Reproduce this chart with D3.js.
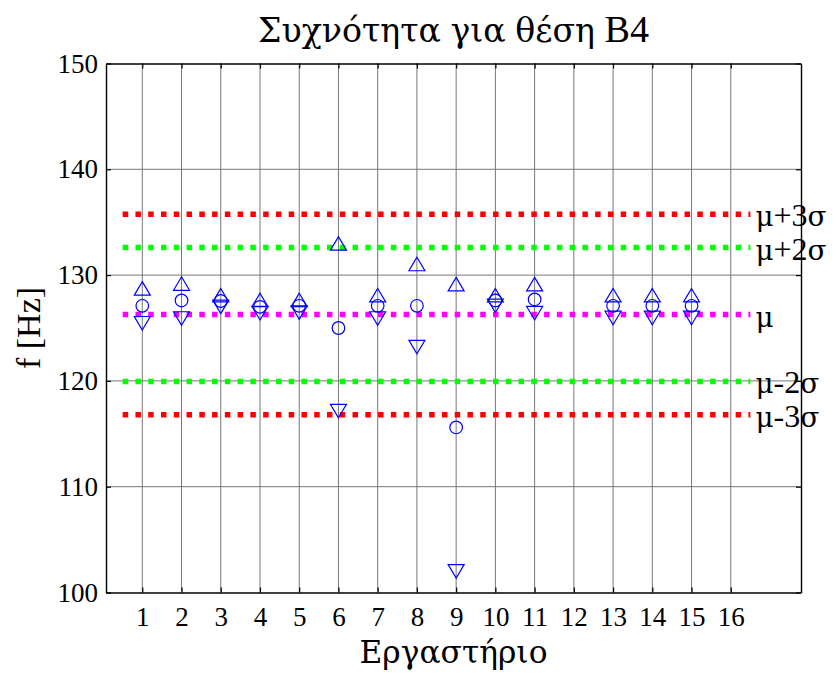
<!DOCTYPE html>
<html>
<head>
<meta charset="utf-8">
<script src="https://cdn.jsdelivr.net/npm/d3@7"></script>
<style>
  html, body { margin: 0; padding: 0; background: #fff; }
  svg text { font-family: "Liberation Serif", serif; fill: #000; }
  svg tspan.gr { font-family: "DejaVu Serif", serif; }
</style>
</head>
<body>
<svg id="chart" width="840" height="674"></svg>
<script>
// Laboratory numbers and measured frequencies (max / mean / min)
const labs  = [1, 2, 3, 4, 5, 6, 7, 8, 9, 10, 11, 13, 14, 15];
const fMax  = [128.75, 129.2, 128.1, 127.65, 127.65, 133.0, 128.1, 131.05, 129.15, 128.1, 129.15, 128.1, 128.1, 128.1];
const fMean = [127.1, 127.6, 127.55, 127.0, 127.1, 125.0, 127.1, 127.1, 115.6, 127.6, 127.7, 127.1, 127.1, 127.1];
const fMin  = [125.45, 125.9, 127.0, 126.4, 126.45, 117.15, 125.9, 123.2, 102.0, 127.1, 126.4, 125.95, 125.95, 125.95];

// Control limits
const limitNames  = ["μ+3σ", "μ+2σ", "μ", "μ-2σ", "μ-3σ"];
const limitValues = [135.75, 132.6, 126.27, 119.95, 116.8];
const limitColors = ["#ff0000", "#00ff00", "#ff00ff", "#00ff00", "#ff0000"];
const limitSpan   = [0.5, 16.5];

const xTicks = [1, 2, 3, 4, 5, 6, 7, 8, 9, 10, 11, 12, 13, 14, 15, 16];
const yTicks = [100, 110, 120, 130, 140, 150];

const L = 106, R = 801, T = 63.5, B = 592.5;
const svg = d3.select("#chart");

const x = d3.scaleLinear().domain([0.075, 17.79]).range([L, R]);
const y = d3.scaleLinear().domain([100, 150]).range([B, T]);

// Writes a string into a text element, giving Greek runs their own serif face
const GREEK = /[\u0370-\u03FF\u1F00-\u1FFF]/;
const GREEK_SCALE = 0.87;
function mixedText(textSel, str, size) {
  const runs = [];
  for (const ch of str) {
    const g = GREEK.test(ch);
    if (runs.length && runs[runs.length - 1].g === g) runs[runs.length - 1].s += ch;
    else runs.push({ g, s: ch });
  }
  textSel.attr("font-size", size);
  textSel.selectAll("tspan").data(runs).join("tspan")
    .attr("class", d => d.g ? "gr" : null)
    .attr("font-size", d => d.g ? size * GREEK_SCALE : size)
    .text(d => d.s);
  return textSel;
}
// Rescale a mixed text so that its width equals the given length
function fitWidth(textSel, str, size, width) {
  mixedText(textSel, str, size);
  const w = textSel.node().getComputedTextLength();
  if (w > 0) mixedText(textSel, str, size * width / w);
  return textSel;
}

// grid
const grid = svg.append("g");
grid.selectAll("line.v").data(xTicks).join("line")
  .attr("x1", d => x(d)).attr("x2", d => x(d)).attr("y1", T).attr("y2", B)
  .attr("stroke", "#777").attr("stroke-width", 1);
grid.selectAll("line.h").data(yTicks.slice(1, -1)).join("line")
  .attr("x1", L).attr("x2", R).attr("y1", d => y(d)).attr("y2", d => y(d))
  .attr("stroke", "#777").attr("stroke-width", 1);

// axes (box with inward ticks on all sides)
const tickLen = 5;
const axBottom = svg.append("g").attr("transform", `translate(0,${B})`)
  .call(d3.axisBottom(x).tickValues(xTicks).tickSizeInner(-tickLen).tickSizeOuter(0).tickPadding(14));
const axTop = svg.append("g").attr("transform", `translate(0,${T})`)
  .call(d3.axisTop(x).tickValues(xTicks).tickSizeInner(-tickLen).tickSizeOuter(0).tickFormat(""));
const axLeft = svg.append("g").attr("transform", `translate(${L},0)`)
  .call(d3.axisLeft(y).tickValues(yTicks).tickSizeInner(-tickLen).tickSizeOuter(0).tickPadding(8));
const axRight = svg.append("g").attr("transform", `translate(${R},0)`)
  .call(d3.axisRight(y).tickValues(yTicks).tickSizeInner(-tickLen).tickSizeOuter(0).tickFormat(""));

[axBottom, axTop, axLeft, axRight].forEach(a => {
  a.select(".domain").attr("stroke", "#000").attr("stroke-width", 1.4);
  a.selectAll(".tick line").attr("stroke", "#000").attr("stroke-width", 1.2);
  a.selectAll("text").attr("font-size", 27).attr("fill", "#000");
});
axBottom.selectAll("text").attr("dy", "0.71em");

// control limit lines
const lim = svg.append("g");
limitValues.forEach((v, i) => {
  lim.append("line")
    .attr("x1", x(limitSpan[0])).attr("x2", x(limitSpan[1]))
    .attr("y1", y(v)).attr("y2", y(v))
    .attr("stroke", limitColors[i]).attr("stroke-width", 5.5)
    .attr("stroke-dasharray", "5.5,7.27");
  const t = lim.append("text")
    .attr("x", x(limitSpan[1]) + 5).attr("y", y(v) + 12);
  mixedText(t, limitNames[i], 32);
});

// markers
const blue = "#0000ff";
const tw = 16, th = 13.5, cr = 6.3;
const mk = svg.append("g").attr("fill", "none").attr("stroke", blue).attr("stroke-width", 1.2);
mk.selectAll("path.up").data(labs).join("path")
  .attr("d", (d, i) => {
    const cx = x(d), cy = y(fMax[i]);
    return `M${cx},${cy - th / 2}L${cx + tw / 2},${cy + th / 2}L${cx - tw / 2},${cy + th / 2}Z`;
  });
mk.selectAll("circle").data(labs).join("circle")
  .attr("cx", d => x(d)).attr("cy", (d, i) => y(fMean[i])).attr("r", cr);
mk.selectAll("path.down").data(labs).join("path")
  .attr("d", (d, i) => {
    const cx = x(d), cy = y(fMin[i]);
    return `M${cx},${cy + th / 2}L${cx + tw / 2},${cy - th / 2}L${cx - tw / 2},${cy - th / 2}Z`;
  });

// titles
const title = svg.append("text").attr("x", (L + R) / 2).attr("y", 42).attr("text-anchor", "middle");
fitWidth(title, "Συχνότητα για θέση B4", 36, 391);
const xLabel = svg.append("text").attr("x", (L + R) / 2).attr("y", 663).attr("text-anchor", "middle");
fitWidth(xLabel, "Εργαστήριο", 36, 188);
svg.append("text").attr("transform", `translate(40,${(T + B) / 2}) rotate(-90)`)
  .attr("text-anchor", "middle").attr("font-size", 34)
  .text("f [Hz]");
</script>
</body>
</html>
